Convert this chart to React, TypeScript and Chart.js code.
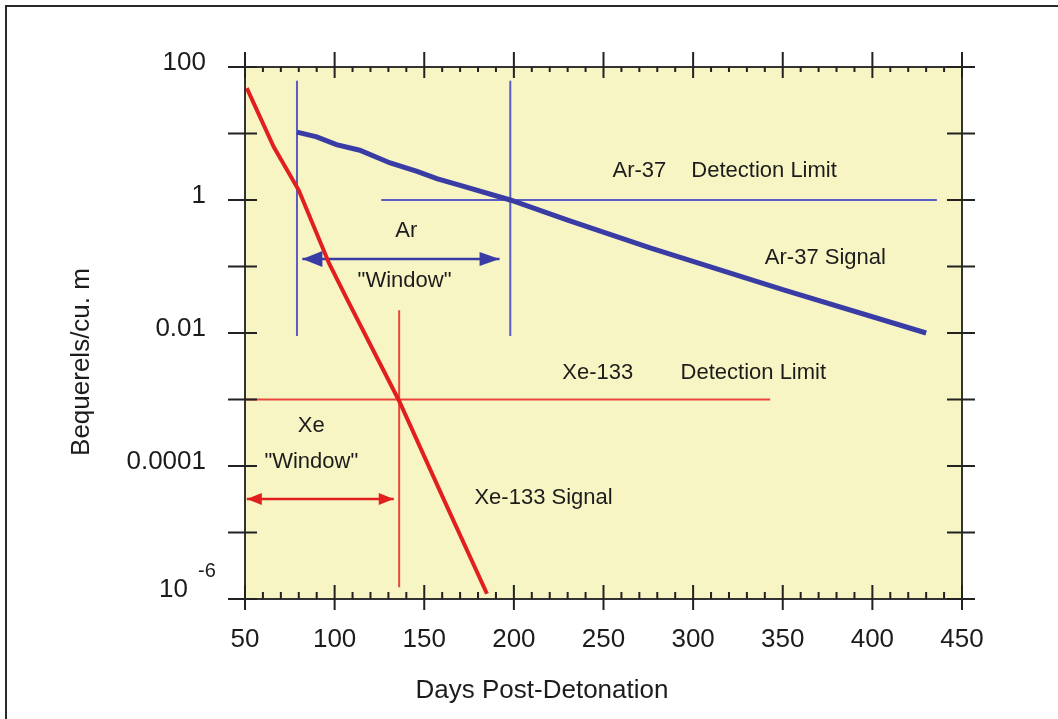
import React, { useEffect, useRef } from 'react';
import { Chart, registerables } from 'chart.js';

Chart.register(...registerables);

const FONT = '"Liberation Sans", Arial, Helvetica, sans-serif';

// ---- axes ----
const xMin = 50;
const xMax = 450;
const xMajorTicks = [50, 100, 150, 200, 250, 300, 350, 400, 450];
const xMinorTicks = [60, 70, 80, 90, 110, 120, 130, 140, 160, 170, 180, 190, 210, 220, 230, 240, 260, 270, 280, 290, 310, 320, 330, 340, 360, 370, 380, 390, 410, 420, 430, 440];
const yMin = 1e-6;
const yMax = 100;
const yDecadeTicks = [1e-6, 1e-5, 1e-4, 1e-3, 1e-2, 1e-1, 1, 10, 100];
const yLabelTicks = [100, 1, 0.01, 0.0001, 1e-6];
const yTickLabels = ['100', '1', '0.01', '0.0001', '10^-6'];

// ---- series (days, Bq per cubic metre) ----
const xeSignalDays = [51, 66, 80, 97, 107, 136, 161, 185];
const xeSignalValues = [48, 6.3, 1.4, 0.11, 0.032, 0.00095, 0.000031, 0.0000012];

const arSignalDays = [79, 90, 101, 114, 131, 146, 157, 172, 198, 230, 276, 350, 430];
const arSignalValues = [10.5, 8.9, 6.8, 5.6, 3.6, 2.7, 2.1, 1.6, 1.0, 0.5, 0.19, 0.045, 0.01];

const arLimitDays = [126, 436];
const arLimitValues = [1, 1];
const arWindowStartDay = 79;
const arWindowEndDay = 198;
const arWindowSpan = [62, 0.009];
const arArrowDays = [82, 192];
const arArrowValue = 0.13;

const xeLimitDays = [50, 343];
const xeLimitValues = [0.001, 0.001];
const xeWindowDay = 136;
const xeWindowSpan = [0.022, 0.0000015];
const xeArrowDays = [51, 133];
const xeArrowValue = 0.000032;

// ---- annotation texts (data coordinates) ----
const noteTexts = ['Ar-37', 'Detection Limit', 'Ar-37 Signal', 'Ar', '"Window"', 'Xe-133', 'Detection Limit', 'Xe', '"Window"', 'Xe-133 Signal'];
const noteDays = [255, 299, 340, 140, 139, 227, 293, 87, 87, 178];
const noteValues = [2.2, 2.2, 0.11, 0.28, 0.049, 0.002, 0.002, 0.00032, 0.000093, 0.000027];
const noteAlign = ['left', 'left', 'left', 'center', 'center', 'left', 'left', 'center', 'center', 'left'];

const RED = '#E21F1F';
const RED_THIN = '#E8483C';
const BLUE = '#3A3CA6';
const BLUE_THIN = '#5A5DC2';
const PLOT_BG = '#F7F5C4';
const INK = '#1c1c1c';

const pts = (xs: number[], ys: number[]) => xs.map((x, i) => ({ x, y: ys[i] }));

const line = (data: any[], color: string, width: number) => ({
  data,
  showLine: true,
  borderColor: color,
  backgroundColor: color,
  borderWidth: width,
  pointRadius: 0,
  tension: 0,
  fill: false,
});

function arrowHead(ctx: CanvasRenderingContext2D, tipX: number, y: number, dir: number, len: number, half: number, color: string) {
  ctx.fillStyle = color;
  ctx.beginPath();
  ctx.moveTo(tipX, y);
  ctx.lineTo(tipX - dir * len, y - half);
  ctx.lineTo(tipX - dir * len, y + half);
  ctx.closePath();
  ctx.fill();
}

const decor = {
  id: 'decor',
  beforeDraw(chart: any) {
    const { ctx, chartArea: a, width, height } = chart;
    ctx.save();
    ctx.fillStyle = '#ffffff';
    ctx.fillRect(0, 0, width, height);
    ctx.fillStyle = PLOT_BG;
    ctx.fillRect(a.left, a.top, a.right - a.left, a.bottom - a.top);
    ctx.strokeStyle = '#2a2a2a';
    ctx.lineWidth = 2;
    ctx.beginPath();
    ctx.moveTo(6, height);
    ctx.lineTo(6, 6);
    ctx.lineTo(width, 6);
    ctx.stroke();
    ctx.restore();
  },
  afterDatasetsDraw(chart: any) {
    const { ctx } = chart;
    const xs = chart.scales.x;
    const ys = chart.scales.y;
    ctx.save();
    // arrow heads
    const ay = ys.getPixelForValue(arArrowValue);
    arrowHead(ctx, xs.getPixelForValue(arArrowDays[0]), ay, -1, 20, 8, BLUE);
    arrowHead(ctx, xs.getPixelForValue(arArrowDays[1]), ay, 1, 20, 7, BLUE);
    const xy = ys.getPixelForValue(xeArrowValue);
    arrowHead(ctx, xs.getPixelForValue(xeArrowDays[0]), xy, -1, 15, 6, RED);
    arrowHead(ctx, xs.getPixelForValue(xeArrowDays[1]), xy, 1, 15, 6, RED);
    // annotation texts
    ctx.fillStyle = INK;
    ctx.font = `22px ${FONT}`;
    ctx.textBaseline = 'alphabetic';
    noteTexts.forEach((t, i) => {
      ctx.textAlign = noteAlign[i] as CanvasTextAlign;
      ctx.fillText(t, xs.getPixelForValue(noteDays[i]), ys.getPixelForValue(noteValues[i]));
    });
    ctx.restore();
  },
  afterDraw(chart: any) {
    const { ctx, chartArea: a } = chart;
    const xs = chart.scales.x;
    const ys = chart.scales.y;
    ctx.save();
    ctx.strokeStyle = '#333333';
    ctx.lineWidth = 2;
    ctx.strokeRect(a.left, a.top, a.right - a.left, a.bottom - a.top);
    ctx.strokeStyle = '#222222';
    ctx.lineWidth = 2;
    ctx.beginPath();
    xMajorTicks.forEach((v) => {
      const px = xs.getPixelForValue(v);
      ctx.moveTo(px, a.bottom - 14);
      ctx.lineTo(px, a.bottom + 11);
      ctx.moveTo(px, a.top - 15);
      ctx.lineTo(px, a.top + 11);
    });
    xMinorTicks.forEach((v) => {
      const px = xs.getPixelForValue(v);
      ctx.moveTo(px, a.bottom - 7);
      ctx.lineTo(px, a.bottom);
      ctx.moveTo(px, a.top);
      ctx.lineTo(px, a.top + 5);
    });
    yDecadeTicks.forEach((v) => {
      const py = ys.getPixelForValue(v);
      ctx.moveTo(a.left - 17, py);
      ctx.lineTo(a.left + 12, py);
      ctx.moveTo(a.right - 15, py);
      ctx.lineTo(a.right + 13, py);
    });
    ctx.stroke();

    // 10^-6 label with superscript
    const idx = yTickLabels.indexOf('10^-6');
    const py = ys.getPixelForValue(yLabelTicks[idx]);
    ctx.fillStyle = INK;
    ctx.textBaseline = 'middle';
    ctx.textAlign = 'right';
    ctx.font = `26px ${FONT}`;
    ctx.fillText('10', 188, py - 9);
    ctx.textAlign = 'left';
    ctx.font = `20px ${FONT}`;
    ctx.fillText('-6', 198, py - 28);

    // axis titles
    ctx.font = `26px ${FONT}`;
    ctx.textAlign = 'center';
    ctx.textBaseline = 'alphabetic';
    ctx.fillText('Days Post-Detonation', 542, 698);
    ctx.translate(89, 362);
    ctx.rotate(-Math.PI / 2);
    ctx.fillText('Bequerels/cu. m', 0, 0);
    ctx.restore();
  },
};

export default function App() {
  const ref = useRef<HTMLCanvasElement | null>(null);
  useEffect(() => {
    if (!ref.current) return;
    const datasets = [
      line(pts(xeSignalDays, xeSignalValues), RED, 4),
      line(pts(arSignalDays, arSignalValues), BLUE, 5),
      line(pts(arLimitDays, arLimitValues), BLUE_THIN, 2),
      line(pts([arWindowStartDay, arWindowStartDay], arWindowSpan), BLUE_THIN, 2),
      line(pts([arWindowEndDay, arWindowEndDay], arWindowSpan), BLUE_THIN, 2),
      line(pts(arArrowDays, [arArrowValue, arArrowValue]), BLUE, 2.5),
      line(pts(xeLimitDays, xeLimitValues), RED_THIN, 2),
      line(pts([xeWindowDay, xeWindowDay], xeWindowSpan), RED_THIN, 2),
      line(pts(xeArrowDays, [xeArrowValue, xeArrowValue]), RED, 2.5),
    ];
    const chart = new Chart(ref.current, {
      type: 'scatter',
      data: { datasets: datasets as any },
      options: {
        responsive: false,
        animation: false,
        devicePixelRatio: 1,
        events: [],
        layout: { padding: { left: 0, top: 67, right: 96, bottom: 0 } },
        plugins: { legend: { display: false }, tooltip: { enabled: false } },
        scales: {
          x: {
            type: 'linear',
            min: xMin,
            max: xMax,
            afterBuildTicks: (s: any) => {
              s.ticks = xMajorTicks.map((v) => ({ value: v }));
            },
            afterFit: (s: any) => {
              s.height = 120;
            },
            grid: { display: false, drawTicks: false },
            border: { display: false },
            ticks: {
              autoSkip: false,
              maxRotation: 0,
              padding: 25,
              color: INK,
              font: { family: FONT, size: 26 },
              callback: (v: any) => String(v),
            },
          },
          y: {
            type: 'logarithmic',
            min: yMin,
            max: yMax,
            afterBuildTicks: (s: any) => {
              s.ticks = yLabelTicks.map((v) => ({ value: v }));
            },
            afterFit: (s: any) => {
              s.width = 245;
            },
            grid: { display: false, drawTicks: false },
            border: { display: false },
            ticks: {
              autoSkip: false,
              padding: 39,
              labelOffset: -4,
              color: INK,
              font: { family: FONT, size: 26 },
              callback: (v: any, i: number) => (yTickLabels[i] === '10^-6' ? '' : yTickLabels[i]),
            },
          },
        },
      },
      plugins: [decor],
    } as any);
    return () => chart.destroy();
  }, []);
  return (
    <div style={{ position: 'fixed', left: 0, top: 0, width: 1058, height: 719, background: '#fff' }}>
      <canvas ref={ref} width={1058} height={719} style={{ display: 'block' }} />
    </div>
  );
}
